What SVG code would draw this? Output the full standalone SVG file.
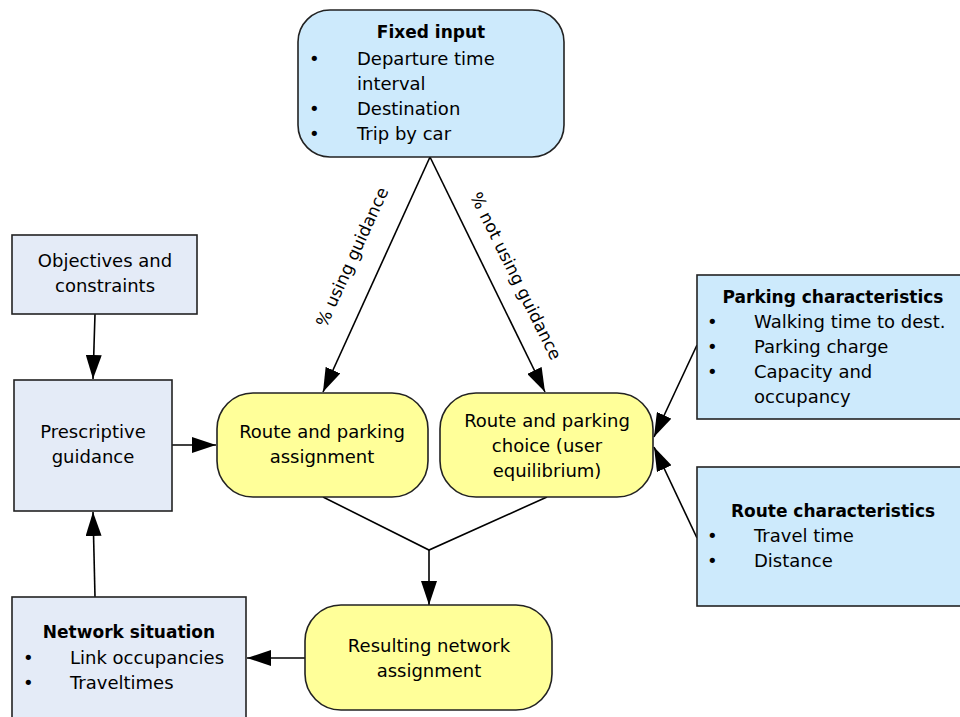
<svg xmlns="http://www.w3.org/2000/svg" width="960" height="717" viewBox="0 0 960 717">
<defs>
<style>
.t{font-family:"DejaVu Sans","Verdana",sans-serif;font-size:18px;fill:#000}
.b{font-weight:bold;font-size:17px}
.m{text-anchor:middle}
.blue{fill:#cdeafc;stroke:#222;stroke-width:1.6}
.lav{fill:#e4ebf7;stroke:#222;stroke-width:1.6}
.yel{fill:#ffff99;stroke:#222;stroke-width:1.6}
.c{stroke:#000;stroke-width:1.6;fill:none}
</style>
<marker id="ah" markerUnits="userSpaceOnUse" markerWidth="24" markerHeight="16" refX="24" refY="8" orient="auto">
<path d="M0,0 L24,8 L0,16 z" fill="#000"/>
</marker>
</defs>
<rect width="960" height="717" fill="#fff"/>

<g id="connectors">
<line class="c" x1="430" y1="157" x2="323" y2="392" marker-end="url(#ah)"/>
<line class="c" x1="430" y1="157" x2="545" y2="392" marker-end="url(#ah)"/>
<line class="c" x1="95" y1="314" x2="93" y2="379" marker-end="url(#ah)"/>
<line class="c" x1="172" y1="445" x2="216" y2="445" marker-end="url(#ah)"/>
<line class="c" x1="697" y1="345" x2="654" y2="437" marker-end="url(#ah)"/>
<line class="c" x1="697" y1="538" x2="654" y2="447" marker-end="url(#ah)"/>
<polyline class="c" points="323,497 429,550 547,497"/>
<line class="c" x1="429" y1="550" x2="429" y2="605" marker-end="url(#ah)"/>
<line class="c" x1="305" y1="658" x2="247" y2="658" marker-end="url(#ah)"/>
<line class="c" x1="95" y1="597" x2="93" y2="512" marker-end="url(#ah)"/>
<text class="t" font-size="17" text-anchor="middle" transform="translate(352,257) rotate(-65.5)" y="6" style="font-size:17px">% using guidance</text>
<text class="t" text-anchor="middle" transform="translate(516,276) rotate(63.7)" y="6" style="font-size:17px">% not using guidance</text>
</g>

<g id="fixed-input">
<rect class="blue" x="298" y="10" width="266" height="147" rx="32"/>
<text class="t b m" x="431" y="38">Fixed input</text>
<text class="t" x="309" y="65">•</text><text class="t" x="357" y="65">Departure time</text>
<text class="t" x="357" y="90">interval</text>
<text class="t" x="309" y="115">•</text><text class="t" x="357" y="115">Destination</text>
<text class="t" x="309" y="140">•</text><text class="t" x="357" y="140">Trip by car</text>
</g>

<g id="objectives">
<rect class="lav" x="12" y="235" width="185" height="79"/>
<text class="t m" x="105" y="267">Objectives and</text>
<text class="t m" x="105" y="292">constraints</text>
</g>

<g id="prescriptive">
<rect class="lav" x="14" y="380" width="158" height="131"/>
<text class="t m" x="93" y="438">Prescriptive</text>
<text class="t m" x="93" y="463">guidance</text>
</g>

<g id="route-assignment">
<rect class="yel" x="217" y="393" width="211" height="104" rx="36"/>
<text class="t m" x="322" y="438">Route and parking</text>
<text class="t m" x="322" y="463">assignment</text>
</g>

<g id="route-choice">
<rect class="yel" x="440" y="393" width="213" height="104" rx="36"/>
<text class="t m" x="547" y="427">Route and parking</text>
<text class="t m" x="547" y="452">choice (user</text>
<text class="t m" x="547" y="477">equilibrium)</text>
</g>

<g id="parking-characteristics">
<rect class="blue" x="697" y="275" width="275" height="144"/>
<text class="t b m" x="833" y="303">Parking characteristics</text>
<text class="t" x="707" y="328">•</text><text class="t" x="754" y="328">Walking time to dest.</text>
<text class="t" x="707" y="353">•</text><text class="t" x="754" y="353">Parking charge</text>
<text class="t" x="707" y="378">•</text><text class="t" x="754" y="378">Capacity and</text>
<text class="t" x="754" y="403">occupancy</text>
</g>

<g id="route-characteristics">
<rect class="blue" x="697" y="467" width="275" height="139"/>
<text class="t b m" x="833" y="517">Route characteristics</text>
<text class="t" x="707" y="542">•</text><text class="t" x="754" y="542">Travel time</text>
<text class="t" x="707" y="567">•</text><text class="t" x="754" y="567">Distance</text>
</g>

<g id="resulting-network">
<rect class="yel" x="305" y="605" width="247" height="105" rx="36"/>
<text class="t m" x="429" y="652">Resulting network</text>
<text class="t m" x="429" y="677">assignment</text>
</g>

<g id="network-situation">
<rect class="lav" x="12" y="597" width="234" height="130"/>
<text class="t b m" x="129" y="638">Network situation</text>
<text class="t" x="23" y="664">•</text><text class="t" x="70" y="664">Link occupancies</text>
<text class="t" x="23" y="689">•</text><text class="t" x="70" y="689">Traveltimes</text>
</g>
</svg>
